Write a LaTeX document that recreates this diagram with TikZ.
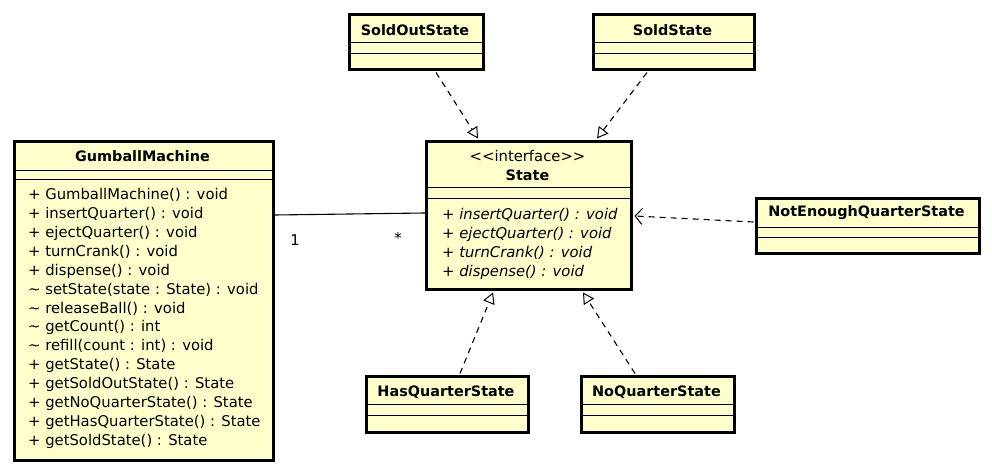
\documentclass[tikz,border=0pt]{standalone}
\usepackage{fontspec}
\setmainfont{DejaVu Sans}
\usetikzlibrary{arrows.meta}
\definecolor{umlfill}{RGB}{255,255,204}
\tikzset{
  cls/.style={draw=black, line width=3pt, fill=umlfill, rectangle, anchor=north west, inner sep=0pt},
  sep/.style={draw=black, line width=0.8pt},
  ttl/.style={font=\fontsize{14.4}{16}\selectfont\bfseries, inner sep=0pt, anchor=center},
  mem/.style={font=\fontsize{14.8}{16}\selectfont, inner sep=0pt, anchor=base west},
  imem/.style={font=\fontsize{14.8}{16}\selectfont\itshape, inner sep=0pt, anchor=base west},
  real/.style={line width=1.1pt, dash pattern=on 6pt off 5pt, -{Triangle[open, length=11pt, width=12pt, line width=1pt]}},
  dep/.style={line width=1.1pt, dash pattern=on 6pt off 5pt, -{Straight Barb[length=7pt, width=16pt, line width=1pt]}},
  assoc/.style={line width=1.1pt},
  mult/.style={font=\fontsize{14.8}{16}\selectfont, inner sep=0pt, anchor=center}
}
\begin{document}
\begin{tikzpicture}[x=1pt,y=-1pt]
\useasboundingbox[fill=white] (0,0) rectangle (992,470);

% GumballMachine
\node[cls, minimum width=259pt, minimum height=319pt] (gm) at (13,140) {};
\draw[sep] (13,170) -- (272,170);
\draw[sep] (13,179) -- (272,179);
\node[ttl] (gmt) at (142.5,156) {GumballMachine};
\foreach \t [count=\i from 0] in {%
  {+ GumballMachine() : void},
  {+ insertQuarter() : void},
  {+ ejectQuarter() : void},
  {+ turnCrank() : void},
  {+ dispense() : void},
  {\textasciitilde\ setState(state : State) : void},
  {\textasciitilde\ releaseBall() : void},
  {\textasciitilde\ getCount() : int},
  {\textasciitilde\ refill(count : int) : void},
  {+ getState() : State},
  {+ getSoldOutState() : State},
  {+ getNoQuarterState() : State},
  {+ getHasQuarterState() : State},
  {+ getSoldState() : State}}
  \node[mem] (gmm\i) at (28,{200+18.85*\i}) {\t};

% State
\node[cls, minimum width=205pt, minimum height=148pt] (st) at (425,140) {};
\draw[sep] (425,187) -- (630,187);
\draw[sep] (425,198) -- (630,198);
\node[mem, anchor=center] (sti) at (527.5,156) {<{}<interface>{}>};
\node[ttl] (stt) at (527.5,175) {State};
\node[imem] (stm0) at (442,220) {+ insertQuarter() : void};
\node[imem] (stm1) at (442,238.8) {+ ejectQuarter() : void};
\node[imem] (stm2) at (442,257.6) {+ turnCrank() : void};
\node[imem] (stm3) at (442,276.4) {+ dispense() : void};

% SoldOutState
\node[cls, minimum width=134pt, minimum height=55pt] (so) at (348,13) {};
\draw[sep] (348,42) -- (482,42);
\draw[sep] (348,53) -- (482,53);
\node[ttl] (sot) at (415,30) {SoldOutState};

% SoldState
\node[cls, minimum width=161pt, minimum height=55pt] (sd) at (592,13) {};
\draw[sep] (592,42) -- (753,42);
\draw[sep] (592,53) -- (753,53);
\node[ttl] (sdt) at (672.5,30) {SoldState};

% NotEnoughQuarterState
\node[cls, minimum width=223pt, minimum height=55pt] (ne) at (755,197) {};
\draw[sep] (755,227) -- (978,227);
\draw[sep] (755,237) -- (978,237);
\node[ttl] (net) at (866.5,213) {NotEnoughQuarterState};

% HasQuarterState
\node[cls, minimum width=162pt, minimum height=56pt] (hq) at (365,375) {};
\draw[sep] (365,404) -- (527,404);
\draw[sep] (365,415) -- (527,415);
\node[ttl] (hqt) at (446,392) {HasQuarterState};

% NoQuarterState
\node[cls, minimum width=153pt, minimum height=56pt] (nq) at (580,375) {};
\draw[sep] (580,404) -- (733,404);
\draw[sep] (580,415) -- (733,415);
\node[ttl] (nqt) at (656.5,392) {NoQuarterState};

% connectors
\draw[assoc] ([yshift=-75pt]gm.north east) -- ([yshift=-73pt]st.north west);
\node[mult] (m1) at (295,240) {1};
\node[mult] (m2) at (398,238) {*};

\draw[real] ([xshift=88pt,yshift=-1.5pt]so.south west) -- ([xshift=53pt,yshift=1.5pt]st.north west);
\draw[real] ([xshift=55pt,yshift=-1.5pt]sd.south west) -- ([xshift=172pt,yshift=1.5pt]st.north west);
\draw[real] ([xshift=95pt,yshift=1.5pt]hq.north west) -- ([xshift=68pt,yshift=-1.5pt]st.south west);
\draw[real] ([xshift=55pt,yshift=1.5pt]nq.north west) -- ([xshift=158pt,yshift=-1.5pt]st.south west);
\draw[dep] ([xshift=-1.5pt,yshift=-25pt]ne.north west) -- ([xshift=1.5pt,yshift=-76pt]st.north east);
\end{tikzpicture}
\end{document}
